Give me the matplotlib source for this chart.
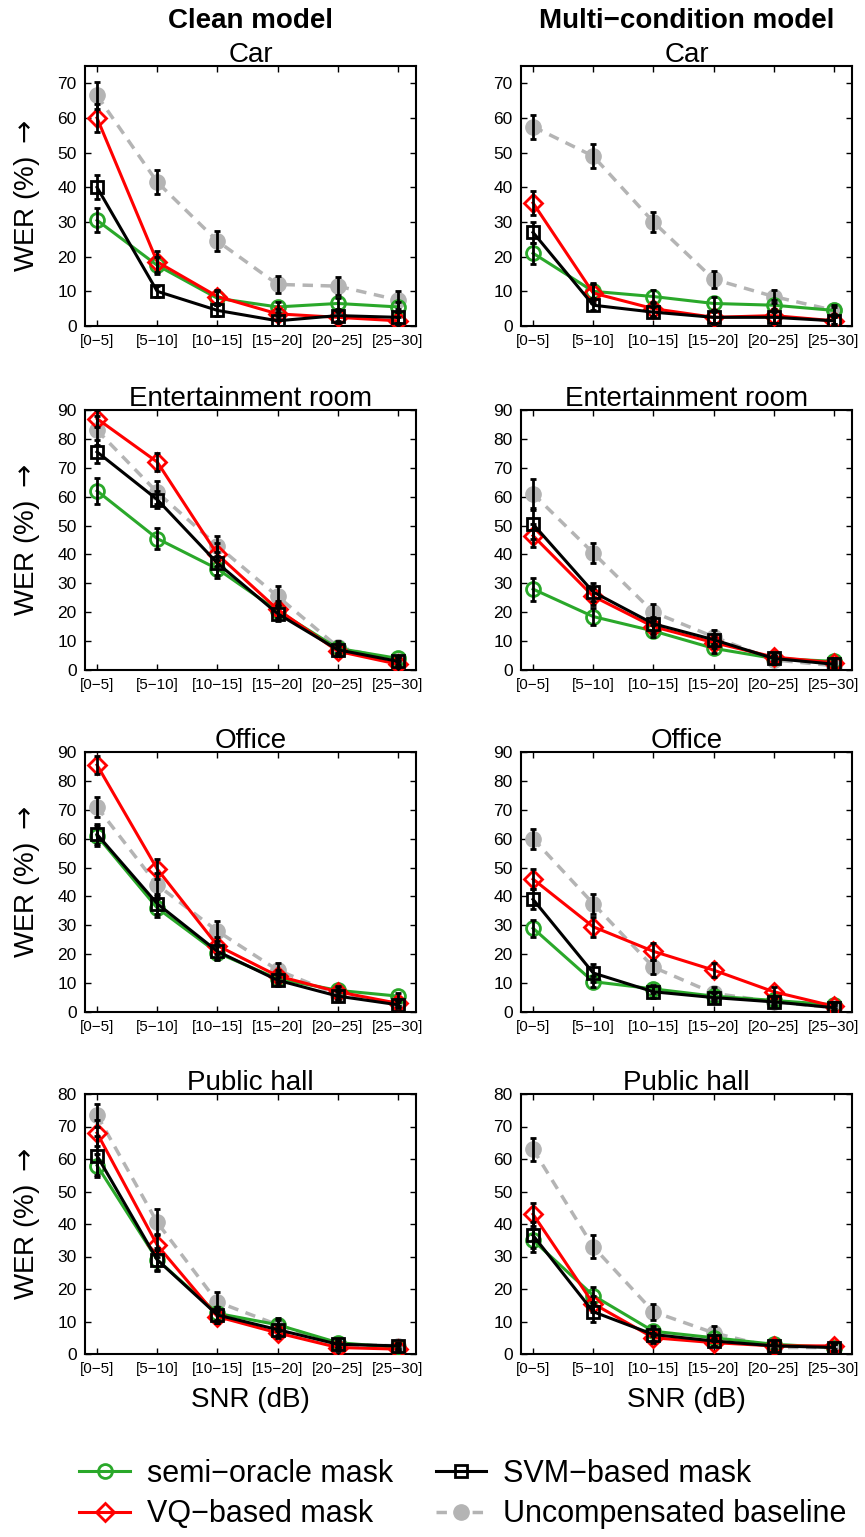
import matplotlib
matplotlib.use('Agg')
import matplotlib.pyplot as plt
import numpy as np

plt.rcParams['font.family'] = ['Liberation Sans', 'DejaVu Sans']

snr_labels = ['[0\u22125]', '[5\u221210]', '[10\u221215]', '[15\u221220]', '[20\u221225]', '[25\u221230]']
environments = ['Car', 'Entertainment room', 'Office', 'Public hall']
y_tops = [75, 90, 90, 80]

# clean model, one row per environment
semi_clean = [[30.5, 17.5, 8, 5.5, 6.5, 5.5], [62, 45.5, 35, 20.5, 7.5, 4],
              [61, 36, 20.5, 11.5, 7.5, 5.5], [58, 29, 12.5, 9, 3.5, 2]]
semi_clean_err = [[3.5, 2.5, 2, 1.5, 1.5, 1.5], [4.5, 3.5, 3, 2.5, 1.5, 1],
                  [3.5, 3, 2.5, 2, 1.5, 1], [3.5, 3, 2, 1.5, 1, 1]]
vq_clean = [[60, 18.5, 8.5, 3.5, 2.5, 1.5], [87, 72, 40, 21, 6.5, 2],
            [85.5, 49.5, 23, 12.5, 7, 3], [68, 33.5, 11.5, 6.5, 2, 1.5]]
vq_clean_err = [[4, 3, 2, 1.5, 1.5, 1], [3, 3, 4, 3, 1.5, 1],
                [3, 3.5, 3, 2, 1.5, 1], [4, 3.5, 2, 1.5, 1, 1]]
svm_clean = [[40, 10, 4.5, 1.5, 3, 2.5], [75.5, 59, 37, 19.5, 7, 3],
             [61.5, 37.5, 21, 11, 5.5, 2.5], [61, 29, 12, 7.5, 3, 2.5]]
svm_clean_err = [[3.5, 1.5, 1.5, 1.5, 1.5, 1.5], [4, 3, 4, 2.5, 1.5, 1],
                 [3.5, 3.5, 2.5, 2, 1.5, 1], [6, 3.5, 2.5, 1.5, 1, 1]]
base_clean = [[66.5, 41.5, 24.5, 12, 11.5, 7.5], [83, 61.5, 43, 25.5, 8, 3],
              [71, 44, 28, 14.5, 6, 3], [73.5, 40.5, 16, 9, 3, 2.5]]
base_clean_err = [[4, 3.5, 3, 2.5, 2.5, 2.5], [5, 4, 3.5, 3.5, 2, 1.5],
                  [3.5, 4, 3.5, 2.5, 1.5, 1], [3.5, 4, 3, 2, 1, 1]]

# multi-condition model
semi_multi = [[21, 10, 8.5, 6.5, 6, 4.5], [28, 18.5, 13.5, 7.5, 4, 3],
              [29, 10.5, 8, 5.5, 4, 2.5], [35, 18, 7, 5, 3, 2]]
semi_multi_err = [[3, 2, 2, 2, 1.5, 1], [4, 3, 2, 1.5, 1, 1],
                  [3, 2, 1.5, 1.5, 1, 1], [3.5, 2.5, 1.5, 1, 1, 1]]
vq_multi = [[35.5, 9.5, 5, 2.5, 3, 1.5], [46.5, 25.5, 15, 9.5, 4.5, 2.5],
            [46, 29.5, 21, 14.5, 7, 2], [43, 15.5, 5, 3.5, 2.5, 2.5]]
vq_multi_err = [[3.5, 3, 2, 2, 2, 1], [4, 3, 2.5, 2, 1, 1],
                [3.5, 3.5, 3, 2.5, 1.5, 1], [3.5, 2.5, 1.5, 1, 1, 1]]
svm_multi = [[27, 6, 4, 2.5, 2.5, 1.5], [50.5, 27, 16, 10.5, 4, 2],
             [39, 13.5, 7, 5, 3.5, 1.5], [36.5, 13, 6, 4, 2.5, 2]]
svm_multi_err = [[3, 1.5, 1.5, 1.5, 1.5, 1], [5, 3, 2.5, 2, 1, 1],
                 [3.5, 3, 2, 1.5, 1, 1], [4, 3, 2, 1.5, 1, 1]]
base_multi = [[57.5, 49, 30, 13.5, 8.5, 4.5], [61, 40.5, 20, 11.5, 3.5, 1.5],
              [60, 37.5, 15.5, 6.5, 3.5, 1.5], [63, 33, 13, 6.5, 2, 2]]
base_multi_err = [[3.5, 3.5, 3, 2.5, 2, 1.5], [5, 3.5, 3, 2.5, 1.5, 1],
                  [3.5, 3.5, 2.5, 2, 1.5, 1], [3.5, 3.5, 2.5, 2, 1, 1]]

green = '#2aa82a'
gray = '#b4b4b4'

W, H = 865, 1537
fig = plt.figure(figsize=(W / 100, H / 100), dpi=100)

col_left = [85, 521]
ax_w = 331
row_top = [66, 410, 752, 1094]
ax_h = 260

x = np.arange(1, 7)
models = [
    (semi_clean, semi_clean_err, vq_clean, vq_clean_err, svm_clean, svm_clean_err, base_clean, base_clean_err),
    (semi_multi, semi_multi_err, vq_multi, vq_multi_err, svm_multi, svm_multi_err, base_multi, base_multi_err),
]

handles = None
for c, data in enumerate(models):
    semi, semi_e, vq, vq_e, svm, svm_e, base, base_e = data
    for r in range(4):
        ax = fig.add_axes([col_left[c] / W, 1 - (row_top[r] + ax_h) / H, ax_w / W, ax_h / H])
        eb = dict(fmt='none', ecolor='black', elinewidth=2, capsize=2.5, capthick=2, zorder=6)

        hb, = ax.plot(x, base[r], '--', color=gray, lw=2.5, marker='o', ms=11,
                      mfc=gray, mec=gray, dashes=(3, 2.2), zorder=2)
        hs, = ax.plot(x, semi[r], '-', color=green, lw=2.2, marker='o', ms=10,
                      mfc='none', mec=green, mew=2, zorder=3)
        hv, = ax.plot(x, vq[r], '-', color='red', lw=2.2, marker='D', ms=9,
                      mfc='none', mec='red', mew=2, zorder=4)
        hq, = ax.plot(x, svm[r], '-', color='black', lw=2.2, marker='s', ms=9,
                      mfc='none', mec='black', mew=2, zorder=5)
        ax.errorbar(x, base[r], yerr=base_e[r], **eb)
        ax.errorbar(x, semi[r], yerr=semi_e[r], **eb)
        ax.errorbar(x, vq[r], yerr=vq_e[r], **eb)
        ax.errorbar(x, svm[r], yerr=svm_e[r], **eb)
        handles = [hs, hv, hq, hb]

        ax.set_xlim(0.8, 6.3)
        ax.set_ylim(0, y_tops[r])
        ax.set_xticks(x)
        ax.set_xticklabels(snr_labels, fontsize=11)
        ax.set_yticks(np.arange(0, y_tops[r] + 1, 10))
        ax.tick_params(axis='y', labelsize=12.5, pad=6)
        ax.tick_params(axis='x', pad=6)
        ax.tick_params(direction='in', top=True, right=True, length=4, width=1)
        for s in ax.spines.values():
            s.set_linewidth(1.5)
        ax.set_title(environments[r], fontsize=20, pad=3)
        if c == 0:
            ax.set_ylabel('WER (%) $\\rightarrow$', fontsize=20)
            ax.yaxis.set_label_coords(-0.13, 0.5)
        if r == 3:
            ax.set_xlabel('SNR (dB)', fontsize=20, labelpad=8)

fig.text((85 + ax_w / 2) / W, 1 - 21 / H, 'Clean model', ha='center', va='center',
         fontsize=20, fontweight='bold')
fig.text((521 + ax_w / 2) / W, 1 - 21 / H, 'Multi\u2212condition model', ha='center', va='center',
         fontsize=20, fontweight='bold')

fig.legend(handles, ['semi\u2212oracle mask', 'VQ\u2212based mask', 'SVM\u2212based mask', 'Uncompensated baseline'],
           ncol=2, loc='center', bbox_to_anchor=(0.535, 1 - 1494 / H), frameon=False,
           fontsize=22, handlelength=1.65, columnspacing=1.4, labelspacing=0.35,
           handletextpad=0.55, markerscale=1.0)

fig.savefig('out.png', dpi=100)
